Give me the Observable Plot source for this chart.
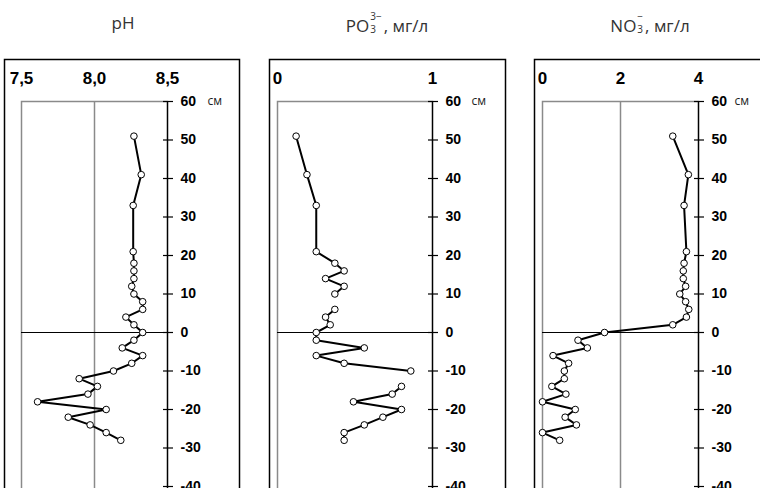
<!DOCTYPE html>
<html>
<head>
<meta charset="utf-8">
<script src="https://cdn.jsdelivr.net/npm/d3@7"></script>
<script src="https://cdn.jsdelivr.net/npm/@observablehq/plot@0.6"></script>
<style>
html, body { margin: 0; padding: 0; background: #fff; }
#root { position: relative; width: 760px; height: 488px; overflow: hidden; background: #fff; }
.title { position: absolute; top: 10px; font-family: "Open Sans", sans-serif; font-size: 17px; color: #333;
  transform: translateX(-50%); white-space: nowrap; line-height: 26px; }
.st { display: inline-flex; flex-direction: column; font-size: 10px; line-height: 13px; vertical-align: 12px; margin: 0 2px 0 1px; }
.panel { position: absolute; top: 57px; height: 431px; overflow: hidden; }
</style>
</head>
<body>
<div id="root">
  <div class="title" style="left:123px">pH</div>
  <div class="title" style="left:387px">PO<span class="st"><span>3−</span><span>3</span></span>, мг/л</div>
  <div class="title" style="left:650px">NO<span class="st"><span>−</span><span>3</span></span>, мг/л</div>
  <div class="panel" id="p1" style="left:2px;width:240px"></div>
  <div class="panel" id="p2" style="left:267px;width:240px"></div>
  <div class="panel" id="p3" style="left:532px;width:228px"></div>
</div>
<script>
// depth of each sample, cm
const depth = [51, 41, 33, 21, 18, 16, 14, 12, 10, 8, 6, 4, 2, 0, -2, -4, -6, -8, -10, -12, -14, -16, -18, -20, -22, -24, -26, -28];
// pH
const ph = [8.27, 8.32, 8.265, 8.265, 8.27, 8.27, 8.27, 8.255, 8.27, 8.33, 8.33, 8.215, 8.27, 8.33, 8.27, 8.19, 8.33, 8.255, 8.13, 7.895, 8.02, 7.955, 7.61, 8.08, 7.82, 7.97, 8.08, 8.18];
// PO3 3-, mg/l (null = no sample)
const po3 = [0.12, 0.19, 0.25, 0.25, 0.37, 0.43, 0.31, 0.43, 0.37, null, 0.37, 0.31, 0.34, 0.25, 0.25, 0.56, 0.25, 0.43, 0.86, null, 0.80, 0.74, 0.49, 0.80, 0.68, 0.56, 0.43, 0.43];
// NO3 -, mg/l
const no3 = [3.34, 3.74, 3.63, 3.69, 3.63, 3.61, 3.61, 3.67, 3.52, 3.67, 3.75, 3.69, 3.34, 1.59, 0.91, 1.15, 0.27, 0.67, 0.56, 0.56, 0.24, 0.60, 0.0, 0.84, 0.58, 0.87, 0.0, 0.44];

const depthTicks = [60, 50, 40, 30, 20, 10, 0, -10, -20, -30, -40];
const phTicks = [7.5, 8.0, 8.5];
const po3Ticks = [0, 1];
const no3Ticks = [0, 2, 4];
const depthUnit = "см";

function panel(el, values, domain, ticks, grid, fmt, dims) {
  const rows = depth.map((d, i) => ({d, v: values[i]}));
  const pts = rows.filter(r => r.v != null);
  const W = 240, H = 431, mT = 44;
  const {mL, mR, boxL, boxR, cmDx} = dims;
  const chart = Plot.plot({
    width: W, height: H,
    marginTop: mT, marginBottom: 2, marginLeft: mL, marginRight: mR,
    x: {domain, axis: null, label: null},
    y: {domain: [-40, 60], axis: null, label: null},
    style: {background: "transparent", maxWidth: "none", overflow: "hidden"},
    marks: [
      Plot.frame({stroke: "#000", strokeWidth: 1.5, insetTop: -(mT - 2), insetLeft: -(mL - boxL), insetRight: -(boxR - (W - mR)), insetBottom: -40}),
      Plot.frame({stroke: "#8a8a8a", strokeWidth: 1.5, insetBottom: -40}),
      Plot.ruleX(grid, {stroke: "#8a8a8a", strokeWidth: 1.5, insetBottom: -40}),
      Plot.ruleY([0], {stroke: "#000", strokeWidth: 1}),
      Plot.ruleX([domain[1]], {stroke: "#000", strokeWidth: 1.3, insetBottom: -40}),
      Plot.axisY({anchor: "right", label: null, ticks: depthTicks, tickSize: 10, dx: -5, tickPadding: 8,
        tickFormat: d => String(d), fontSize: 14, fontWeight: "bold",
        fontFamily: "Liberation Sans, Arial, sans-serif", textAnchor: "start", fill: "#000", stroke: "#000", strokeWidth: 1.2}),
      Plot.axisX({anchor: "top", label: null, ticks, tickSize: 0, tickPadding: 18, tickFormat: fmt,
        fontSize: 17, fontWeight: "bold", fontFamily: "Liberation Sans, Arial, sans-serif", fill: "#000"}),
      Plot.text([depthUnit], {x: () => domain[1], y: () => 60, text: d => d, dx: cmDx, textAnchor: "start",
        fontSize: 12, fontFamily: "Open Sans, sans-serif", fill: "#222"}),
      Plot.line(rows, {x: "v", y: "d", stroke: "#000", strokeWidth: 2, strokeLinejoin: "miter", strokeLinecap: "butt"}),
      Plot.dot(pts, {x: "v", y: "d", r: 3.3, fill: "#fff", stroke: "#000", strokeWidth: 1})
    ]
  });
  document.getElementById(el).appendChild(chart);
}

panel("p1", ph, [7.5, 8.5], phTicks, [8.0], d => d.toFixed(1).replace(".", ","),
  {mL: 19, mR: 75, boxL: 2, boxR: 237, cmDx: 40});
panel("p2", po3, [0, 1], po3Ticks, [], d => String(d),
  {mL: 10, mR: 75, boxL: 2, boxR: 238, cmDx: 39});
panel("p3", no3, [0, 4], no3Ticks, [2], d => String(d),
  {mL: 10, mR: 74, boxL: 2, boxR: 260, cmDx: 36});
</script>
</body>
</html>
